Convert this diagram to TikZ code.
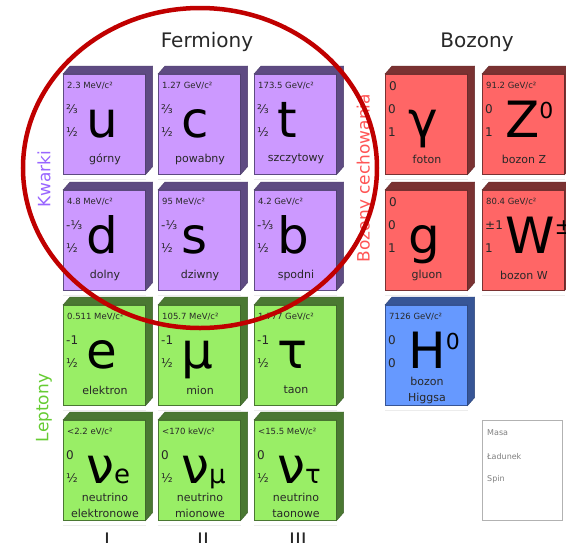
\documentclass[tikz,border=0pt]{standalone}
\usepackage{fontspec}
\setmainfont{DejaVu Sans}
\usepackage{tikz}

\definecolor{kwarkfront}{RGB}{204,153,255}
\definecolor{kwarkside}{RGB}{94,75,130}
\definecolor{leptonfront}{RGB}{153,238,102}
\definecolor{leptonside}{RGB}{74,120,50}
\definecolor{bozonfront}{RGB}{255,102,102}
\definecolor{bozonside}{RGB}{122,50,50}
\definecolor{higgsfront}{RGB}{102,153,255}
\definecolor{higgsside}{RGB}{55,85,150}
\definecolor{elipsa}{RGB}{192,0,0}
\definecolor{napis}{RGB}{40,40,40}

\newcommand{\duze}{\fontsize{12}{12}\selectfont}
\newcommand{\gora}[1]{\raisebox{19pt}{\fontsize{22}{22}\selectfont #1}}
\newcommand{\dol}[1]{{\fontsize{26}{26}\selectfont #1}}

\tikzset{
  czolo/.style={draw=#1side, line width=0.6pt, fill=#1front,
    minimum width=82pt, minimum height=100pt, inner sep=0pt, anchor=north west},
  bok/.style={fill=#1side, draw=#1side!80!black, line width=0.4pt},
  masa/.style={anchor=west, inner sep=0pt, text=napis, font=\fontsize{8.5}{9}\selectfont},
  ladunek/.style={anchor=west, inner sep=0pt, text=napis, font=\duze},
  znak/.style={anchor=base west, inner sep=0pt, font=\fontsize{50}{50}\selectfont},
  nazwa/.style={inner sep=0pt, align=center, text=napis, font=\fontsize{11}{16}\selectfont},
  grupa/.style={rotate=90, inner sep=0pt, font=\fontsize{17}{17}\selectfont},
  naglowek/.style={inner sep=0pt, text=napis, font=\fontsize{20}{20}\selectfont},
  opis/.style={anchor=west, inner sep=0pt, text=gray, font=\fontsize{8}{8}\selectfont}
}

% nazwa, x, y, rodzaj, masa, ladunek, spin, symbol, podpis
\newcommand{\czastka}[9]{%
  \node[czolo=#4] (#1) at (#2,#3) {};
  \draw[gray!15, line width=1.5pt] ([shift={(0,5)}]#1.south west) -- ([shift={(0,5)}]#1.south east);
  \filldraw[bok=#4] (#1.north west) -- ++(7,-8) -- ([shift={(7,-8)}]#1.north east)
    -- ([shift={(7,-8)}]#1.south east) -- (#1.south east) -- (#1.north east) -- cycle;
  \draw[#4side] (#1.north east) -- ([shift={(7,-8)}]#1.north east);
  \node[masa] (#1-masa) at ([shift={(4,12)}]#1.north west) {#5};
  \node[ladunek] (#1-ladunek) at ([shift={(3,35)}]#1.north west) {#6};
  \node[ladunek] (#1-spin) at ([shift={(3,58)}]#1.north west) {#7};
  \node[znak] (#1-znak) at ([shift={(23,63)}]#1.north west) {#8};
  \node[nazwa] (#1-nazwa) at ([shift={(42,85)}]#1.north west) {#9};
}

\begin{document}
\begin{tikzpicture}[x=1pt, y=-1pt]
  \fill[white] (0,0) rectangle (566,542);
  \clip (0,0) rectangle (566,542);

  \czastka{u}{63}{74}{kwark}{2.3 MeV/c²}{⅔}{½}{u}{górny}
  \czastka{c}{158}{74}{kwark}{1.27 GeV/c²}{⅔}{½}{c}{powabny}
  \czastka{t}{254}{74}{kwark}{173.5 GeV/c²}{⅔}{½}{t}{szczytowy}
  \czastka{d}{63}{190}{kwark}{4.8 MeV/c²}{-⅓}{½}{d}{dolny}
  \czastka{s}{158}{190}{kwark}{95 MeV/c²}{-⅓}{½}{s}{dziwny}
  \czastka{b}{254}{190}{kwark}{4.2 GeV/c²}{-⅓}{½}{b}{spodni}

  \czastka{e}{63}{305}{lepton}{0.511 MeV/c²}{-1}{½}{e}{elektron}
  \czastka{mu}{158}{305}{lepton}{105.7 MeV/c²}{-1}{½}{μ}{mion}
  \czastka{tau}{254}{305}{lepton}{1.777 GeV/c²}{-1}{½}{τ}{taon}
  \czastka{nue}{63}{420}{lepton}{<2.2 eV/c²}{0}{½}{ν\dol{e}}{neutrino\\elektronowe}
  \czastka{numu}{158}{420}{lepton}{<170 keV/c²}{0}{½}{ν\dol{μ}}{neutrino\\mionowe}
  \czastka{nutau}{254}{420}{lepton}{<15.5 MeV/c²}{0}{½}{ν\dol{τ}}{neutrino\\taonowe}

  \czastka{gamma}{385}{74}{bozon}{\duze 0}{0}{1}{γ}{foton}
  \czastka{Z}{482}{74}{bozon}{91.2 GeV/c²}{0}{1}{Z\gora{0}}{bozon Z}
  \czastka{g}{385}{190}{bozon}{\duze 0}{0}{1}{g}{gluon}
  \czastka{W}{482}{190}{bozon}{80.4 GeV/c²}{±1}{1}{W\gora{±}}{bozon W}
  \czastka{H}{385}{305}{higgs}{7126 GeV/c²}{0}{0}{H\gora{0}}{bozon\\Higgsa}

  \node[naglowek] (fermiony) at (207,42) {Fermiony};
  \node[naglowek] (bozony) at (477,42) {Bozony};
  \node[grupa, text={rgb,255:red,153;green,102;blue,255}] (kwarki) at (44,179) {Kwarki};
  \node[grupa, text={rgb,255:red,102;green,204;blue,51}] (leptony) at (44,408) {Leptony};
  \node[grupa, text={rgb,255:red,255;green,85;blue,85}] (cechowania) at (365,178) {Bozony cechowania};

  \node[naglowek] (gen1) at (107,540) {I};
  \node[naglowek] (gen2) at (203,540) {II};
  \node[naglowek] (gen3) at (298,540) {III};

  \node[draw=gray!60, line width=1pt, minimum width=80pt, minimum height=100pt,
    anchor=north west] (legenda) at (482,420) {};
  \node[opis] (leg-masa) at ([shift={(5,13)}]legenda.north west) {Masa};
  \node[opis] (leg-ladunek) at ([shift={(5,37)}]legenda.north west) {Ładunek};
  \node[opis] (leg-spin) at ([shift={(5,59)}]legenda.north west) {Spin};

  \draw[elipsa, line width=4.5pt] (200,168) ellipse [x radius=177pt, y radius=160pt];
\end{tikzpicture}
\end{document}
